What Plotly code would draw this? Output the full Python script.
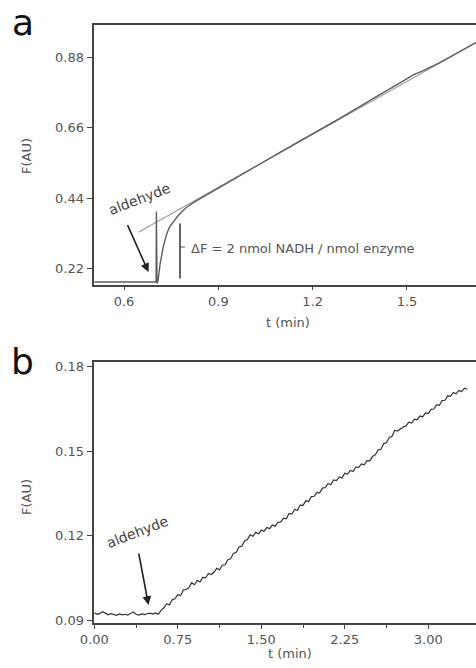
import plotly.graph_objects as go

# ---------------- Panel a data ----------------
t_a = [0.505, 0.600, 0.700, 0.702, 0.703, 0.705, 0.708, 0.715, 0.725, 0.735,
       0.745, 0.757, 0.770, 0.785, 0.800, 0.830, 0.900, 1.000, 1.100, 1.200,
       1.300, 1.400, 1.450, 1.490, 1.520, 1.550, 1.600, 1.720, 1.760]
F_a = [0.177, 0.177, 0.177, 0.177, 0.398, 0.172, 0.180, 0.235, 0.288, 0.325,
       0.350, 0.367, 0.382, 0.398, 0.412, 0.431, 0.472, 0.528, 0.585, 0.640,
       0.697, 0.756, 0.784, 0.808, 0.826, 0.838, 0.862, 0.927, 0.949]
t_fit = [0.646, 1.760]
F_fit = [0.333, 0.949]

xa_ticks = [0.6, 0.9, 1.2, 1.5]
ya_ticks = [0.22, 0.44, 0.66, 0.88]

# ---------------- Panel b data ----------------
t_b = [0.000, 0.025, 0.050, 0.075, 0.100, 0.125, 0.150, 0.175, 0.200, 0.225,
       0.250, 0.275, 0.300, 0.325, 0.350, 0.375, 0.400, 0.425, 0.450, 0.475,
       0.500, 0.525, 0.550, 0.575, 0.600, 0.625, 0.650, 0.675, 0.700, 0.725,
       0.750, 0.775, 0.800, 0.825, 0.850, 0.875, 0.900, 0.925, 0.950, 0.975,
       1.000, 1.025, 1.050, 1.075, 1.100, 1.125, 1.150, 1.175, 1.200, 1.225,
       1.250, 1.275, 1.300, 1.325, 1.350, 1.375, 1.400, 1.425, 1.450, 1.475,
       1.500, 1.525, 1.550, 1.575, 1.600, 1.625, 1.650, 1.675, 1.700, 1.725,
       1.750, 1.775, 1.800, 1.825, 1.850, 1.875, 1.900, 1.925, 1.950, 1.975,
       2.000, 2.025, 2.050, 2.075, 2.100, 2.125, 2.150, 2.175, 2.200, 2.225,
       2.250, 2.275, 2.300, 2.325, 2.350, 2.375, 2.400, 2.425, 2.450, 2.475,
       2.500, 2.525, 2.550, 2.575, 2.600, 2.625, 2.650, 2.675, 2.700, 2.725,
       2.750, 2.775, 2.800, 2.825, 2.850, 2.875, 2.900, 2.925, 2.950, 2.975,
       3.000, 3.025, 3.050, 3.075, 3.100, 3.125, 3.150, 3.175, 3.200, 3.225,
       3.250, 3.275, 3.300, 3.325, 3.350]
F_b = [0.0926, 0.0921, 0.0924, 0.0930, 0.0925, 0.0919, 0.0923, 0.0920, 0.0917, 0.0922,
       0.0919, 0.0921, 0.0918, 0.0924, 0.0929, 0.0921, 0.0918, 0.0922, 0.0920, 0.0923,
       0.0925, 0.0922, 0.0926, 0.0921, 0.0935, 0.0944, 0.0958, 0.0955, 0.0973, 0.0976,
       0.0991, 0.0987, 0.1007, 0.1009, 0.1016, 0.1033, 0.1026, 0.1041, 0.1036, 0.1052,
       0.1050, 0.1066, 0.1062, 0.1070, 0.1084, 0.1079, 0.1095, 0.1097, 0.1115, 0.1118,
       0.1137, 0.1141, 0.1160, 0.1163, 0.1181, 0.1186, 0.1203, 0.1198, 0.1212, 0.1207,
       0.1220, 0.1216, 0.1229, 0.1225, 0.1238, 0.1234, 0.1247, 0.1249, 0.1262, 0.1260,
       0.1279, 0.1277, 0.1293, 0.1290, 0.1309, 0.1308, 0.1324, 0.1321, 0.1339, 0.1340,
       0.1354, 0.1352, 0.1369, 0.1371, 0.1385, 0.1382, 0.1398, 0.1396, 0.1409, 0.1405,
       0.1422, 0.1419, 0.1432, 0.1428, 0.1444, 0.1443, 0.1455, 0.1452, 0.1467, 0.1466,
       0.1482, 0.1487, 0.1505, 0.1507, 0.1527, 0.1531, 0.1549, 0.1553, 0.1575, 0.1572,
       0.1580, 0.1586, 0.1590, 0.1603, 0.1600, 0.1614, 0.1612, 0.1625, 0.1622, 0.1636,
       0.1634, 0.1649, 0.1650, 0.1665, 0.1663, 0.1680, 0.1681, 0.1697, 0.1695, 0.1709,
       0.1704, 0.1716, 0.1712, 0.1724, 0.1720]

xb_ticks = [0.00, 0.75, 1.50, 2.25, 3.00]
xb_minor = [0.375, 1.125, 1.875, 2.625]
yb_ticks = [0.09, 0.12, 0.15, 0.18]

W, H = 476, 668
def px(x):
    return x / W
def py(y):
    return 1 - y / H

FONT = "DejaVu Sans"
TICKFONT = dict(family=FONT, size=13, color="#555555")
AXCOL = "#444444"

fig = go.Figure()
fig.add_trace(go.Scatter(x=t_fit, y=F_fit, mode="lines", xaxis="x", yaxis="y",
                         line=dict(color="#9a9a9a", width=1.1), hoverinfo="skip"))
fig.add_trace(go.Scatter(x=t_a, y=F_a, mode="lines", xaxis="x", yaxis="y",
                         line=dict(color="#5e5e5e", width=1.4)))
fig.add_trace(go.Scatter(x=t_b, y=F_b, mode="lines", xaxis="x2", yaxis="y2",
                         line=dict(color="#333333", width=1.2)))

common_axis = dict(showline=True, linecolor=AXCOL, linewidth=1.5, showgrid=False,
                   zeroline=False, ticks="outside", tickcolor=AXCOL, tickwidth=1,
                   tickfont=TICKFONT, automargin=False)

fig.update_layout(
    width=W, height=H,
    margin=dict(l=0, r=0, t=0, b=0, pad=0, autoexpand=False),
    paper_bgcolor="white", plot_bgcolor="white",
    showlegend=False,
    xaxis=dict(domain=[px(94.3), 1], anchor="y", range=[0.5055, 1.7195],
               tickvals=xa_ticks, tickformat=".1f", ticklen=4, mirror=True,
               **common_axis),
    yaxis=dict(domain=[py(284.5), py(25)], anchor="x", range=[0.169, 0.982],
               tickvals=ya_ticks, tickformat=".2f", ticklen=6, **common_axis),
    xaxis2=dict(domain=[px(94.3), 1], anchor="y2", range=[0.0, 3.429],
                tickvals=xb_ticks, tickformat=".2f", ticklen=4, mirror=True,
                minor=dict(tickvals=xb_minor, ticks="outside", ticklen=3,
                           tickcolor=AXCOL),
                **common_axis),
    yaxis2=dict(domain=[py(623), py(362)], anchor="x2", range=[0.089, 0.1817],
                tickvals=yb_ticks, tickformat=".2f", ticklen=6, **common_axis),
)

def note(text, x, y, size, color="#555555", angle=0, xanchor="center"):
    return dict(text=text, x=px(x), y=py(y), xref="paper", yref="paper",
                xanchor=xanchor, yanchor="middle", showarrow=False,
                textangle=angle, font=dict(family=FONT, size=size, color=color))

ann = []
# panel letters
ann.append(note("a", 23, 23, 36, "#111111"))
ann.append(note("b", 22.5, 361, 36, "#111111"))
# axis titles
for yy in (156, 497):
    ann.append(note("F(AU)", 27, yy, 13, angle=-90))
for xx, yy in ((288, 322), (290, 653)):
    ann.append(note("t (min)", xx, yy, 13))
# aldehyde labels
ann.append(note("aldehyde", 139, 199, 14, "#444444", angle=-21))
ann.append(note("aldehyde", 137, 532, 14, "#444444", angle=-21))
# arrows
ann.append(dict(text="", x=px(148.5), y=py(272), xref="paper", yref="paper",
                ax=-21.6, ay=-48.4, axref="pixel", ayref="pixel", showarrow=True,
                arrowhead=2, arrowsize=1.1, arrowwidth=1.6, arrowcolor="#222222"))
ann.append(dict(text="", x=px(148.5), y=py(605), xref="paper", yref="paper",
                ax=-10, ay=-53, axref="pixel", ayref="pixel", showarrow=True,
                arrowhead=2, arrowsize=1.1, arrowwidth=1.6, arrowcolor="#222222"))
# Delta F text
ann.append(note("ΔF = 2 nmol NADH / nmol enzyme", 189, 248.5, 13, xanchor="left"))
fig.update_layout(annotations=ann)

# bracket for Delta F
shapes = [
    dict(type="line", xref="paper", yref="paper", x0=px(180), x1=px(180),
         y0=py(223.5), y1=py(278.5), line=dict(color="#333333", width=1.5)),
    dict(type="line", xref="paper", yref="paper", x0=px(180), x1=px(185),
         y0=py(247), y1=py(247), line=dict(color="#555555", width=1)),
]
fig.update_layout(shapes=shapes)

fig.write_html("out.html")
